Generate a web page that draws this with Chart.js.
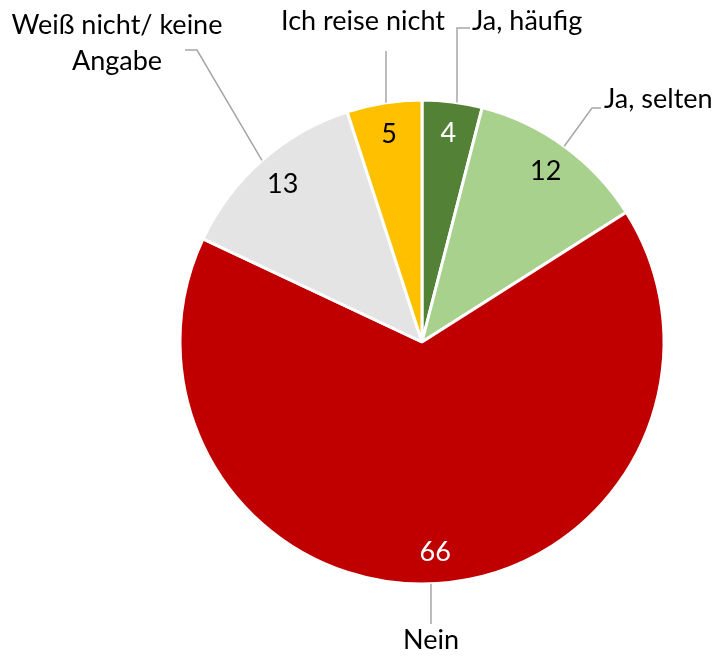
<!DOCTYPE html>
<html>
<head>
<meta charset="utf-8">
<script src="https://cdn.jsdelivr.net/npm/chart.js@4"></script>
<style>
  html, body { margin: 0; padding: 0; background: #fff; }
  #wrap { width: 720px; height: 657px; }
</style>
</head>
<body>
<div id="wrap"><canvas id="pieChart"></canvas></div>
<script>
// Survey answers (percent), clockwise from 12 o'clock
const categories = ['Ja, häufig', 'Ja, selten', 'Nein', 'Weiß nicht/ keine Angabe', 'Ich reise nicht'];
const shares = [4, 12, 66, 13, 5];
const sliceColors = ['#538135', '#A9D18E', '#C00000', '#E4E4E4', '#FFC000'];
const valueColors = ['#ffffff', '#000000', '#ffffff', '#000000', '#000000'];

const FONT = '"Lato", "Open Sans", sans-serif';

// where the category labels sit and how the leader lines run to them
const outerLabels = [
  { lines: ['Ja, häufig'], x: 472, y: 21, align: 'left', vertical: true, path: [[457, 28], [470, 28]] },
  { lines: ['Ja, selten'], x: 604, y: 99, align: 'left', path: [[592, 108], [601, 108]] },
  { lines: ['Nein'], x: 431, y: 640, align: 'center', vertical: true, bottom: true, path: [[431, 624]] },
  { lines: ['Weiß nicht/ keine', 'Angabe'], x: 117, y: 25, align: 'center', path: [[197, 50], [185, 50]] },
  { lines: ['Ich reise nicht'], x: 363, y: 21, align: 'center', vertical: true, path: [[386, 51]] }
];

const pieLabels = {
  id: 'pieLabels',
  afterDatasetsDraw(chart) {
    const ctx = chart.ctx;
    const meta = chart.getDatasetMeta(0);
    ctx.save();
    meta.data.forEach((arc, i) => {
      const { x: cx, y: cy, startAngle, endAngle, outerRadius: R } = arc.getProps(['x', 'y', 'startAngle', 'endAngle', 'outerRadius']);
      const mid = (startAngle + endAngle) / 2;

      // value inside slice
      const vr = R * 0.87;
      ctx.font = '27px ' + FONT;
      ctx.fillStyle = valueColors[i];
      ctx.textAlign = 'center';
      ctx.textBaseline = 'middle';
      ctx.fillText(String(shares[i]), cx + Math.cos(mid) * vr, cy + Math.sin(mid) * vr);

      // leader line
      const lab = outerLabels[i];
      let start;
      if (lab.vertical) {
        const px = lab.path[0][0];
        const dy = Math.sqrt(R * R - (px - cx) * (px - cx));
        start = [px, lab.bottom ? cy + dy : cy - dy];
      } else {
        start = [cx + Math.cos(mid) * R, cy + Math.sin(mid) * R];
      }
      ctx.strokeStyle = '#A6A6A6';
      ctx.lineWidth = 1.5;
      ctx.beginPath();
      ctx.moveTo(start[0], start[1]);
      lab.path.forEach(p => ctx.lineTo(p[0], p[1]));
      ctx.stroke();

      // category text
      ctx.fillStyle = '#000000';
      ctx.textAlign = lab.align;
      ctx.font = '27px ' + FONT;
      lab.lines.forEach((t, k) => ctx.fillText(t, lab.x, lab.y + k * 36));
    });
    ctx.restore();
  }
};

new Chart(document.getElementById('pieChart'), {
  type: 'pie',
  data: {
    labels: categories,
    datasets: [{
      data: shares,
      backgroundColor: sliceColors,
      borderColor: '#ffffff',
      borderWidth: 3
    }]
  },
  options: {
    responsive: true,
    maintainAspectRatio: false,
    animation: false,
    layout: { padding: { left: 178.5, right: 54.5, top: 98.5, bottom: 71.5 } },
    plugins: {
      legend: { display: false },
      tooltip: { enabled: false }
    }
  },
  plugins: [pieLabels]
});
</script>
</body>
</html>
